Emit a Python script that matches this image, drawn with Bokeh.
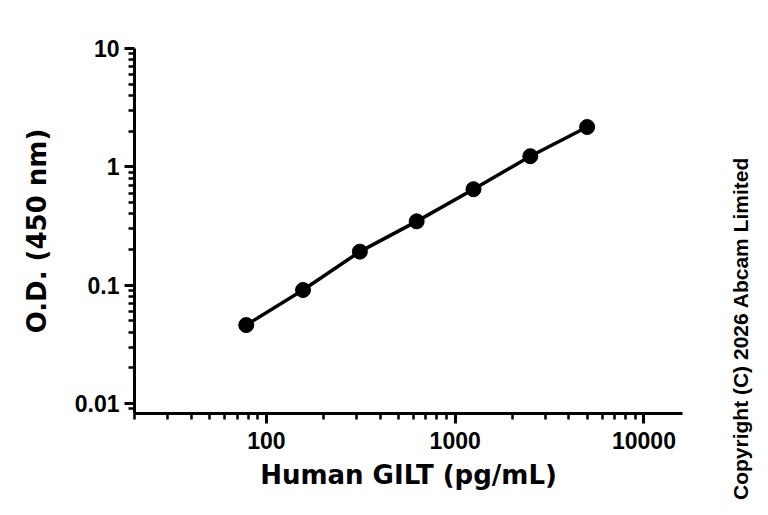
import math
from bokeh.plotting import figure
from bokeh.layouts import row
from bokeh.models import FixedTicker, CustomJSTickFormatter, Label, Range1d
from bokeh.embed import file_html
from bokeh.resources import INLINE

# Data
concentration = [78.125, 156.25, 312.5, 625, 1250, 2500, 5000]
od_450 = [0.046, 0.091, 0.192, 0.346, 0.647, 1.23, 2.17]

x_major = [100, 1000, 10000]
x_minor = [m * d for d in (10, 100, 1000) for m in range(2, 10)]
y_major = [0.01, 0.1, 1, 10]
y_minor = [m * d for d in (0.001, 0.01, 0.1, 1) for m in range(2, 10)]

x_label = "Human GILT (pg/mL)"
y_label = "O.D. (450 nm)"
copyright_text = "Copyright (C) 2026 Abcam Limited"

TICK_FONT = "Liberation Sans"
LABEL_FONT = "DejaVu Sans"

MAIN_W = 708
SIDE_W = 768 - MAIN_W

p = figure(width=MAIN_W, height=515, x_axis_type="log", y_axis_type="log",
           x_range=Range1d(20, 16000), y_range=Range1d(0.00823, 10),
           output_backend="svg", toolbar_location=None)
p.min_border_left = 134
p.min_border_right = MAIN_W - 682
p.min_border_top = 48
p.min_border_bottom = 102
p.outline_line_color = None
p.grid.visible = False
p.background_fill_color = "white"
p.border_fill_color = "white"
p.frame_align = False

p.line(concentration, od_450, line_color="black", line_width=3.5)
p.scatter(concentration, od_450, size=15, fill_color="black", line_color="black")

fmt = CustomJSTickFormatter(code="return String(tick);")
for ax, major, minor, lab in ((p.xaxis[0], x_major, x_minor, x_label),
                              (p.yaxis[0], y_major, y_minor, y_label)):
    ax.ticker = FixedTicker(ticks=major, minor_ticks=minor)
    ax.formatter = fmt
    ax.axis_line_width = 3
    ax.axis_line_color = "black"
    ax.major_tick_line_width = 3
    ax.minor_tick_line_width = 2.5
    ax.major_tick_in = 0
    ax.major_tick_out = 10
    ax.minor_tick_in = 0
    ax.minor_tick_out = 6
    ax.major_label_text_font = TICK_FONT
    ax.major_label_text_font_style = "bold"
    ax.major_label_text_font_size = "23px"
    ax.major_label_text_color = "black"
    ax.axis_label = lab
    ax.axis_label_text_font = LABEL_FONT
    ax.axis_label_text_font_style = "bold"
    ax.axis_label_text_font_size = "26px"
    ax.axis_label_text_color = "black"

p.xaxis.major_label_standoff = 8
p.yaxis.major_label_standoff = 5
p.xaxis.axis_label_standoff = 8
p.yaxis.axis_label_standoff = 20

# Side panel holding the vertical copyright note
side = figure(width=SIDE_W, height=515, x_range=Range1d(0, 1), y_range=Range1d(0, 1),
              x_axis_location=None, y_axis_location=None, min_border=0,
              output_backend="svg", toolbar_location=None)
side.frame_align = False
side.outline_line_color = None
side.grid.visible = False
side.border_fill_color = "white"
side.background_fill_color = "white"
side.add_layout(Label(x=740 - MAIN_W, y=515 - 328, x_units="screen", y_units="screen",
                      text=copyright_text, angle=math.pi / 2,
                      text_align="center", text_baseline="middle",
                      text_font="Liberation Sans", text_font_style="bold",
                      text_font_size="21px", text_color="black"))

layout = row(p, side, spacing=0)
open("out.html", "w").write(file_html(layout, INLINE))
